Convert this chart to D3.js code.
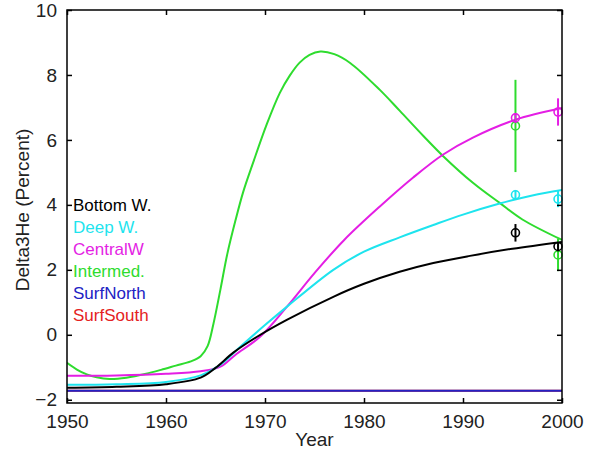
<!DOCTYPE html>
<html>
<head>
<meta charset="utf-8">
<script src="https://cdn.jsdelivr.net/npm/d3@7"></script>
<style>
  body { margin: 0; background: #fff; }
  text { font-family: "Liberation Sans", Arial, sans-serif; }
</style>
</head>
<body>
<div id="container"></div>
<script>
//series names and colours, legend order
var seriesNames = ["Bottom W.", "Deep W.", "CentralW", "Intermed.", "SurfNorth", "SurfSouth"];
var seriesColors = ["#000000", "#1ee4ee", "#e41ee4", "#2edc2e", "#2222c4", "#e42222"];

//model curves, [year, delta3He]
var bottomW = [[1950,-1.63],[1955,-1.6],[1960,-1.52],[1963.5,-1.32],[1965,-1.02],[1966.8,-0.55],[1969.2,-0.06],
  [1972.2,0.46],[1976.9,1.17],[1980,1.57],[1983.6,1.94],[1987,2.21],[1990.7,2.43],[1995,2.65],[2000,2.86]];
var deepW = [[1950,-1.54],[1955,-1.52],[1960,-1.45],[1963.5,-1.25],[1965.5,-0.92],[1967.5,-0.37],[1970,0.3],
  [1972.2,0.86],[1976.9,2.0],[1980,2.56],[1983.6,3.0],[1987,3.38],[1990,3.7],[1993.7,4.04],[1997,4.29],[2000,4.46]];
var centralW = [[1950,-1.26],[1955,-1.25],[1960,-1.2],[1963.5,-1.12],[1965.5,-0.98],[1967,-0.62],[1969.5,-0.06],
  [1972.2,0.86],[1975,1.9],[1978,2.92],[1981.6,3.95],[1985,4.85],[1988,5.55],[1991,6.07],[1995.3,6.62],[2000,6.98]];
var intermed = [[1950,-0.86],[1951,-1.07],[1952,-1.22],[1953,-1.31],[1954.3,-1.36],[1956,-1.32],[1958,-1.2],
  [1959.5,-1.08],[1961,-0.95],[1962.5,-0.82],[1963.5,-0.66],[1964.2,-0.35],[1964.8,0.35],[1965.5,1.4],
  [1966.2,2.5],[1967,3.5],[1967.8,4.4],[1968.8,5.3],[1970.2,6.5],[1971.5,7.45],[1972.5,7.98],[1973.5,8.38],
  [1974.5,8.62],[1975.6,8.72],[1977,8.64],[1978.6,8.37],[1981.6,7.54],[1983.6,6.9],[1986,6.12],[1988,5.5],
  [1991,4.68],[1993.7,4.06],[1996,3.55],[2000,2.92]];
var surfNorth = [[1950,-1.72],[2000,-1.72]];
var surfSouth = [[1950,-1.72],[2000,-1.72]];

//observations with error bars
var obsYears = [1995.3, 1999.6];
var obsBottom = [3.14, 2.72], errBottom = [0.27, 0.15];
var obsDeep = [4.31, 4.18], errDeep = [0.15, 0.25];
var obsCentral = [6.68, 6.86], errCentral = [0.15, 0.42];
var obsInter = [6.43, 2.46], errInter = [1.42, 0.5];

//axis ticks
var xTicks = [1950, 1960, 1970, 1980, 1990, 2000];
var yTicks = [-2, 0, 2, 4, 6, 8, 10];

var width = 594, height = 450;
var margin = {top: 10, right: 32, bottom: 47, left: 67};

var svg = d3.select("#container").append("svg")
    .attr("width", width)
    .attr("height", height);

var x = d3.scaleLinear().domain([1950, 2000]).range([margin.left, width - margin.right]);
var y = d3.scaleLinear().domain([-2.1, 10]).range([height - margin.bottom, margin.top]);

svg.append("clipPath").attr("id", "clip")
  .append("rect")
    .attr("x", x(1950)).attr("y", y(10))
    .attr("width", x(2000) - x(1950)).attr("height", y(-2.1) - y(10));

var line = d3.line()
    .x(function(d){ return x(d[0]); })
    .y(function(d){ return y(d[1]); })
    .curve(d3.curveCatmullRom.alpha(0.5));

//draw order: surfSouth under surfNorth
var curves = [
  {data: surfSouth, color: seriesColors[5]},
  {data: surfNorth, color: seriesColors[4]},
  {data: intermed, color: seriesColors[3]},
  {data: centralW, color: seriesColors[2]},
  {data: deepW, color: seriesColors[1]},
  {data: bottomW, color: seriesColors[0]}
];

svg.append("g").attr("clip-path", "url(#clip)")
  .selectAll("path")
  .data(curves)
  .enter()
  .append("path")
    .attr("d", function(d){ return line(d.data); })
    .attr("fill", "none")
    .attr("stroke", function(d){ return d.color; })
    .attr("stroke-width", 2);

//observation markers
var obs = [
  {vals: obsInter, errs: errInter, color: seriesColors[3]},
  {vals: obsCentral, errs: errCentral, color: seriesColors[2]},
  {vals: obsDeep, errs: errDeep, color: seriesColors[1]},
  {vals: obsBottom, errs: errBottom, color: seriesColors[0]}
];

obs.forEach(function(s){
  var g = svg.append("g");
  obsYears.forEach(function(yr, i){
    g.append("line")
      .attr("x1", x(yr)).attr("x2", x(yr))
      .attr("y1", y(s.vals[i] - s.errs[i]))
      .attr("y2", y(s.vals[i] + s.errs[i]))
      .attr("stroke", s.color)
      .attr("stroke-width", 2);
    g.append("circle")
      .attr("cx", x(yr)).attr("cy", y(s.vals[i]))
      .attr("r", 4)
      .attr("fill", "none")
      .attr("stroke", s.color)
      .attr("stroke-width", 1.6);
  });
});

//frame and ticks (inward, all four sides)
var frame = svg.append("g");
frame.append("rect")
    .attr("x", x(1950)).attr("y", y(10))
    .attr("width", x(2000) - x(1950)).attr("height", y(-2.1) - y(10))
    .attr("fill", "none").attr("stroke", "#000").attr("stroke-width", 1.5);

var bottomAxis = d3.axisBottom(x).tickValues(xTicks).tickFormat(d3.format("d")).tickSizeInner(-5).tickSizeOuter(0).tickPadding(12);
var leftAxis = d3.axisLeft(y).tickValues(yTicks).tickFormat(function(d){ return d < 0 ? "\u2212" + Math.abs(d) : d; })
    .tickSizeInner(-5).tickSizeOuter(0).tickPadding(10);

var gx = svg.append("g").attr("transform", "translate(0," + y(-2.1) + ")").call(bottomAxis);
var gy = svg.append("g").attr("transform", "translate(" + x(1950) + ",0)").call(leftAxis);
var gt = svg.append("g").attr("transform", "translate(0," + y(10) + ")")
    .call(d3.axisTop(x).tickValues(xTicks).tickFormat("").tickSizeInner(-5).tickSizeOuter(0));
var gr = svg.append("g").attr("transform", "translate(" + x(2000) + ",0)")
    .call(d3.axisRight(y).tickValues(yTicks).tickFormat("").tickSizeInner(-5).tickSizeOuter(0));

[gx, gy, gt, gr].forEach(function(g){
  g.select(".domain").remove();
  g.selectAll(".tick line").attr("stroke", "#000").attr("stroke-width", 1.5);
  g.selectAll("text").attr("font-size", 19).attr("fill", "#222")
    .style("font-family", "'Liberation Sans', Arial, sans-serif");
});

//axis labels
svg.append("text")
    .attr("x", (x(1950) + x(2000)) / 2).attr("y", 446)
    .attr("text-anchor", "middle")
    .attr("font-size", 19).attr("fill", "#222")
    .text("Year");

svg.append("text")
    .attr("transform", "translate(29," + 210 + ") rotate(-90)")
    .attr("text-anchor", "middle")
    .attr("font-size", 19).attr("fill", "#222")
    .text("Delta3He (Percent)");

//legend text
svg.append("g").selectAll("text")
  .data(seriesNames)
  .enter()
  .append("text")
    .attr("x", 73)
    .attr("y", function(d, i){ return 211 + i * 22; })
    .attr("font-size", 17)
    .attr("fill", function(d, i){ return seriesColors[i]; })
    .text(function(d){ return d; });
</script>
</body>
</html>
